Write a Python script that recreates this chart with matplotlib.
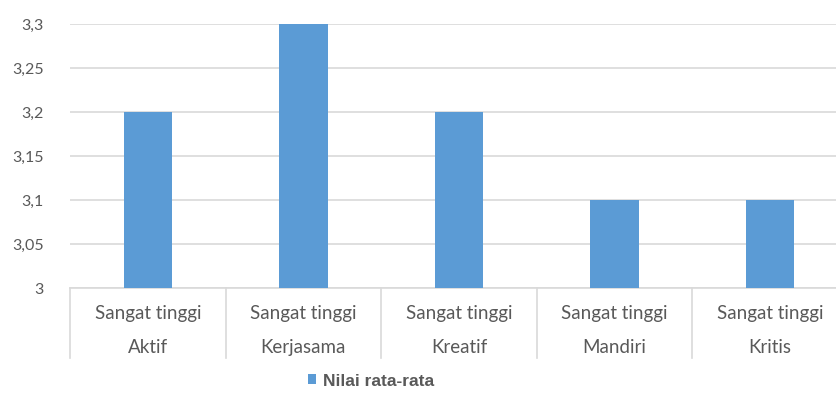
import matplotlib.pyplot as plt
import matplotlib.transforms as mtransforms
import numpy as np

# Data
levels = ['Sangat tinggi'] * 5
categories = ['Aktif', 'Kerjasama', 'Kreatif', 'Mandiri', 'Kritis']
values = [3.2, 3.3, 3.2, 3.1, 3.1]
yticks = [3.0, 3.05, 3.1, 3.15, 3.2, 3.25, 3.3]
ytick_labels = ['3', '3,05', '3,1', '3,15', '3,2', '3,25', '3,3']

bar_color = '#5b9bd5'
grid_color = '#d9d9d9'
text_color = '#595959'
font = 'Lato'

fig = plt.figure(figsize=(8.36, 3.97), dpi=100)
W, H = 836, 397
# plot area is wider than the picture (cropped on the right in the reference)
ax = fig.add_axes([70 / W, (H - 288) / H, (848 - 70) / W, (288 - 24) / H])

x = np.arange(len(categories))
ax.bar(x, values, width=0.31, color=bar_color, zorder=3, label='Nilai rata-rata')

ax.set_ylim(3.0, 3.3)
ax.set_xlim(-0.5, len(categories) - 0.5)
ax.set_yticks(yticks)
ax.set_yticklabels(ytick_labels, fontfamily=font, fontsize=11.5, color=text_color)
ax.tick_params(axis='y', length=0, pad=19)
ax.set_xticks([])
ax.yaxis.grid(True, color=grid_color, linewidth=1.2, zorder=0)

for s in ['top', 'right', 'left']:
    ax.spines[s].set_visible(False)
ax.spines['bottom'].set_color(grid_color)
ax.spines['bottom'].set_linewidth(1.2)

# two-level category labels
trans = mtransforms.blended_transform_factory(ax.transData, ax.transAxes)
for i, (lvl, cat) in enumerate(zip(levels, categories)):
    ax.text(i, -0.095, lvl, transform=trans, ha='center', va='center',
            fontfamily=font, fontsize=13.5, color=text_color)
    ax.text(i, -0.227, cat, transform=trans, ha='center', va='center',
            fontfamily=font, fontsize=13.5, color=text_color)
for b in np.arange(-0.5, len(categories), 1.0):
    ax.plot([b, b], [0, -0.265], transform=trans, color=grid_color,
            linewidth=1.2, clip_on=False)

fig.legend(loc='center', bbox_to_anchor=(0.444, (H - 381) / H), frameon=False,
           prop={'family': 'Liberation Sans', 'weight': 'bold', 'size': 12.5},
           labelcolor=text_color, handlelength=0.5, handleheight=0.5,
           handletextpad=0.4)

fig.savefig('out.png', dpi=100)
